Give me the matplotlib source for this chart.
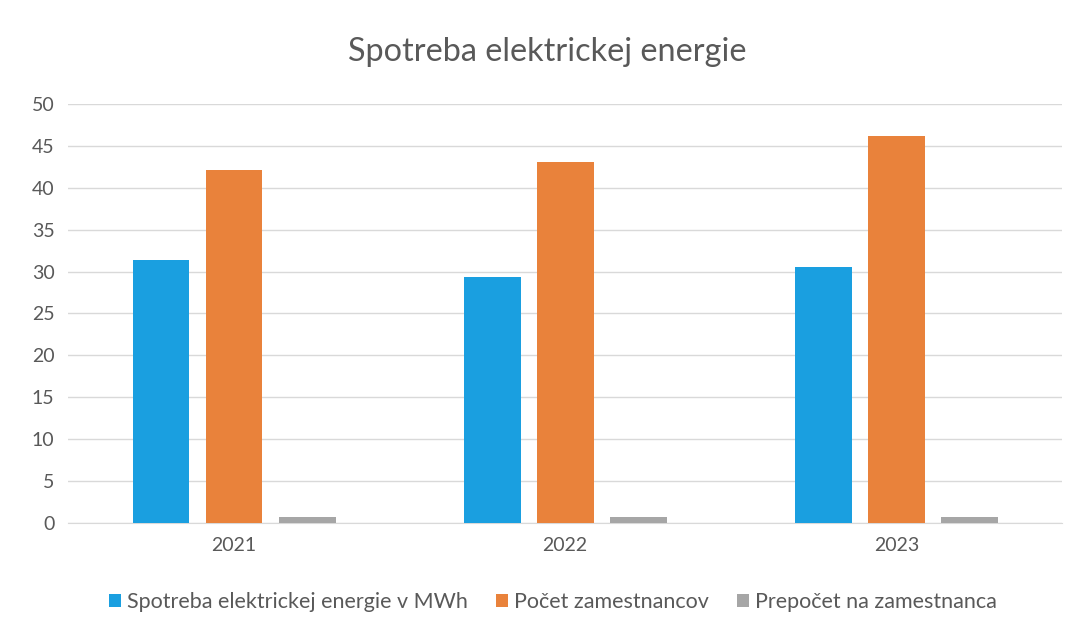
import matplotlib.pyplot as plt
import numpy as np

plt.rcParams['font.family'] = ['Lato', 'DejaVu Sans']

years = ['2021', '2022', '2023']
spotreba = [31.4, 29.3, 30.5]
zamestnanci = [42.1, 43.1, 46.2]
prepocet = [0.75, 0.68, 0.66]

series_names = ['Spotreba elektrickej energie v MWh', 'Počet zamestnancov', 'Prepočet na zamestnanca']
colors = ['#1a9fe0', '#e9823b', '#a6a6a6']

fig = plt.figure(figsize=(10.78, 6.3), dpi=100)
ax = fig.add_axes([0.0635, 0.170, 0.9215, 0.665])

x = np.arange(len(years))
width = 0.172
offset = 0.2205
for i, (vals, name, c) in enumerate(zip([spotreba, zamestnanci, prepocet], series_names, colors)):
    ax.bar(x + (i - 1) * offset, vals, width, color=c, label=name, zorder=3)

ax.set_xlim(-0.5, 2.5)
ax.set_ylim(0, 50)
ax.set_yticks(range(0, 51, 5))
ax.set_xticks(x)
ax.set_xticklabels(years)
ax.yaxis.grid(True, color='#d9d9d9', linewidth=1, zorder=0)
ax.tick_params(axis='both', length=0, labelsize=14, colors='#595959', pad=10)
ax.tick_params(axis='y', pad=10)
for s in ['top', 'right', 'left']:
    ax.spines[s].set_visible(False)
ax.spines['bottom'].set_color('#d9d9d9')

fig.text(0.508, 0.918, 'Spotreba elektrickej energie', ha='center', va='center',
         fontsize=23.3, color='#595959')

fig.legend(loc='center', bbox_to_anchor=(0.513, 0.045), ncol=3, frameon=False,
           fontsize=15.5, labelcolor='#595959', handlelength=0.55, handleheight=0.55,
           handletextpad=0.3, columnspacing=1.3)

fig.savefig('out.png', dpi=100, facecolor='white')
